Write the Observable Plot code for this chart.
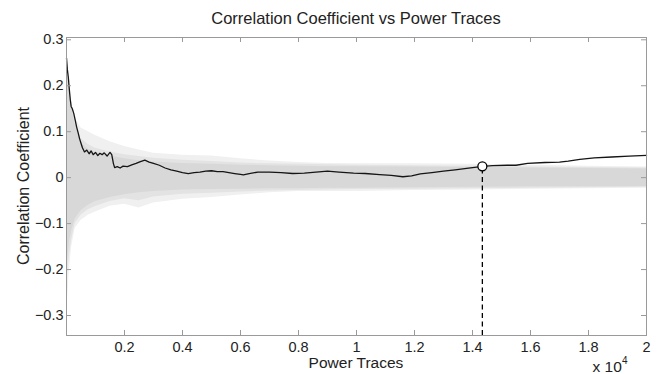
<!DOCTYPE html>
<html>
<head>
<meta charset="utf-8">
<script src="https://cdn.jsdelivr.net/npm/d3@7"></script>
<script src="https://cdn.jsdelivr.net/npm/@observablehq/plot@0.6"></script>
<style>
  html, body { margin: 0; padding: 0; background: #fff; }
  #chart { width: 662px; height: 374px; overflow: hidden; }
</style>
</head>
<body>
<div id="chart"></div>
<script>
// ---- data ----
const bandX       = [1, 50, 100, 180, 300, 500, 750, 1000, 1500, 2000, 2500, 3000, 4000, 5000, 6000, 7000, 8000, 9000, 10000, 12000, 14000, 16000, 18000, 20000];
const bandHiOuter = [0.27, 0.23, 0.2, 0.165, 0.13, 0.108, 0.1, 0.092, 0.078, 0.068, 0.06, 0.053, 0.049, 0.047, 0.041, 0.036, 0.033, 0.031, 0.03, 0.03, 0.029, 0.027, 0.025, 0.023];
const bandHiMid   = [0.26, 0.22, 0.19, 0.155, 0.12, 0.085, 0.072, 0.064, 0.056, 0.05, 0.046, 0.042, 0.038, 0.035, 0.032, 0.03, 0.029, 0.028, 0.027, 0.026, 0.025, 0.023, 0.022, 0.021];
const bandHiInner = [0.25, 0.21, 0.18, 0.15, 0.115, 0.075, 0.062, 0.055, 0.047, 0.041, 0.037, 0.034, 0.031, 0.029, 0.027, 0.026, 0.025, 0.024, 0.024, 0.023, 0.022, 0.021, 0.02, 0.019];
const bandLoInner = [-0.2, -0.17, -0.14, -0.115, -0.09, -0.072, -0.06, -0.052, -0.043, -0.037, -0.033, -0.03, -0.027, -0.026, -0.025, -0.024, -0.024, -0.023, -0.023, -0.022, -0.021, -0.02, -0.02, -0.019];
const bandLoMid   = [-0.24, -0.2, -0.17, -0.135, -0.1, -0.082, -0.07, -0.063, -0.052, -0.046, -0.05, -0.042, -0.036, -0.034, -0.031, -0.029, -0.028, -0.027, -0.026, -0.025, -0.024, -0.023, -0.022, -0.021];
const bandLoOuter = [-0.3, -0.25, -0.2, -0.15, -0.11, -0.093, -0.082, -0.075, -0.062, -0.058, -0.066, -0.055, -0.047, -0.043, -0.038, -0.033, -0.03, -0.03, -0.03, -0.028, -0.027, -0.025, -0.024, -0.023];

const traceX = [1, 30, 60, 100, 130, 160, 200, 250, 300, 350, 400, 450, 500, 550, 620, 700, 780, 850, 920, 1000, 1080, 1150, 1230, 1300, 1400, 1500, 1560, 1620, 1660, 1750, 1850, 1950, 2100, 2250, 2400, 2550, 2700, 2850, 3000, 3200, 3400, 3600, 3800, 4000, 4200, 4400, 4600, 4800, 5000, 5200, 5400, 5600, 5800, 6000, 6100, 6300, 6600, 7000, 7400, 7800, 8200, 8600, 9000, 9400, 9900, 10300, 10800, 11200, 11600, 11900, 12200, 12600, 13000, 13400, 13800, 14340, 14700, 15200, 15500, 15900, 16500, 17000, 17300, 17700, 18200, 18800, 19400, 20000];
const traceY = [0.26, 0.235, 0.22, 0.19, 0.17, 0.155, 0.15, 0.14, 0.125, 0.11, 0.098, 0.085, 0.075, 0.065, 0.056, 0.06, 0.052, 0.058, 0.05, 0.055, 0.048, 0.053, 0.05, 0.054, 0.047, 0.055, 0.05, 0.03, 0.022, 0.024, 0.021, 0.025, 0.024, 0.028, 0.031, 0.035, 0.038, 0.034, 0.031, 0.027, 0.021, 0.017, 0.014, 0.011, 0.009, 0.011, 0.012, 0.014, 0.015, 0.013, 0.013, 0.011, 0.009, 0.007, 0.006, 0.009, 0.012, 0.012, 0.011, 0.009, 0.01, 0.012, 0.014, 0.012, 0.01, 0.009, 0.0065, 0.005, 0.002, 0.004, 0.008, 0.011, 0.014, 0.017, 0.02, 0.0246, 0.026, 0.027, 0.027, 0.031, 0.033, 0.034, 0.036, 0.04, 0.043, 0.045, 0.047, 0.0485];

const markerX = [14340];
const markerY = [0.0246];

const xTicks = [2000, 4000, 6000, 8000, 10000, 12000, 14000, 16000, 18000, 20000];
const yTicks = [-0.3, -0.2, -0.1, 0, 0.1, 0.2, 0.3];
const xDomain = [0, 20000];
const yDomain = [-0.3435, 0.305];

// ---- tables built from the arrays ----
const band = bandX.map((x, i) => ({x,
  hiO: bandHiOuter[i], hiM: bandHiMid[i], hiI: bandHiInner[i],
  loI: bandLoInner[i], loM: bandLoMid[i], loO: bandLoOuter[i]}));
const trace = traceX.map((x, i) => ({x, y: traceY[i]}));
const marker = markerX.map((x, i) => ({x, y: markerY[i]}));

const W = 662, H = 374, mL = 66, mR = 16, mT = 37, mB = 39;
const innerW = W - mL - mR, innerH = H - mT - mB;
const axisGray = "#9a9a9a";
const font = "'Liberation Sans', Arial, sans-serif";

const chart = Plot.plot({
  width: W, height: H,
  marginLeft: mL, marginRight: mR, marginTop: mT, marginBottom: mB,
  x: {domain: xDomain},
  y: {domain: yDomain},
  style: {fontFamily: font, fontSize: "14.5px", color: "#222", background: "#fff", overflow: "visible"},
  marks: [
    Plot.areaY(band, {x: "x", y1: "loO", y2: "hiO", fill: "#f0f0f0"}),
    Plot.areaY(band, {x: "x", y1: "loM", y2: "hiM", fill: "#e3e3e3"}),
    Plot.areaY(band, {x: "x", y1: "loI", y2: "hiI", fill: "#d8d8d8"}),
    Plot.line(trace, {x: "x", y: "y", stroke: "#151515", strokeWidth: 1.3}),
    Plot.ruleX(marker, {x: "x", y1: () => yDomain[0], y2: "y", stroke: "#000", strokeWidth: 1.3, strokeDasharray: "5,3.5"}),
    Plot.dot(marker, {x: "x", y: "y", r: 4.5, stroke: "#000", fill: "#fff", strokeWidth: 1.3}),
    Plot.frame({stroke: axisGray}),
    Plot.tickX(xTicks, {x: d => d, insetTop: innerH - 5, stroke: axisGray}),
    Plot.tickX(xTicks, {x: d => d, insetBottom: innerH - 5, stroke: axisGray}),
    Plot.tickY(yTicks, {y: d => d, insetRight: innerW - 5, stroke: axisGray}),
    Plot.tickY(yTicks, {y: d => d, insetLeft: innerW - 5, stroke: axisGray}),
    Plot.axisX(xTicks, {tickSize: 0, tickPadding: 6, tickFormat: d => d3.format("~g")(d / 1e4), label: null}),
    Plot.axisY(yTicks, {tickSize: 0, tickPadding: 3, tickFormat: d => d3.format("~g")(d), label: null})
  ]
});

const svg = d3.select(chart);
svg.append("text")
  .attr("x", 356).attr("y", 24)
  .attr("text-anchor", "middle")
  .style("font-size", "16.5px").style("font-family", font).attr("fill", "#222")
  .text("Correlation Coefficient vs Power Traces");
svg.append("text")
  .attr("x", 356).attr("y", 368)
  .attr("text-anchor", "middle")
  .style("font-size", "15.5px").style("font-family", font).attr("fill", "#222")
  .text("Power Traces");
svg.append("text")
  .attr("transform", "translate(29,186) rotate(-90)")
  .attr("text-anchor", "middle")
  .style("font-size", "16px").style("font-family", font).attr("fill", "#222")
  .text("Correlation Coefficient");
const mult = svg.append("text")
  .attr("x", 610).attr("y", 372)
  .style("font-size", "15.5px").style("font-family", font).attr("fill", "#222");
mult.append("tspan").text("x 10");
mult.append("tspan").attr("dy", -8).style("font-size", "10px").text("4");

document.getElementById("chart").appendChild(chart);
</script>
</body>
</html>
